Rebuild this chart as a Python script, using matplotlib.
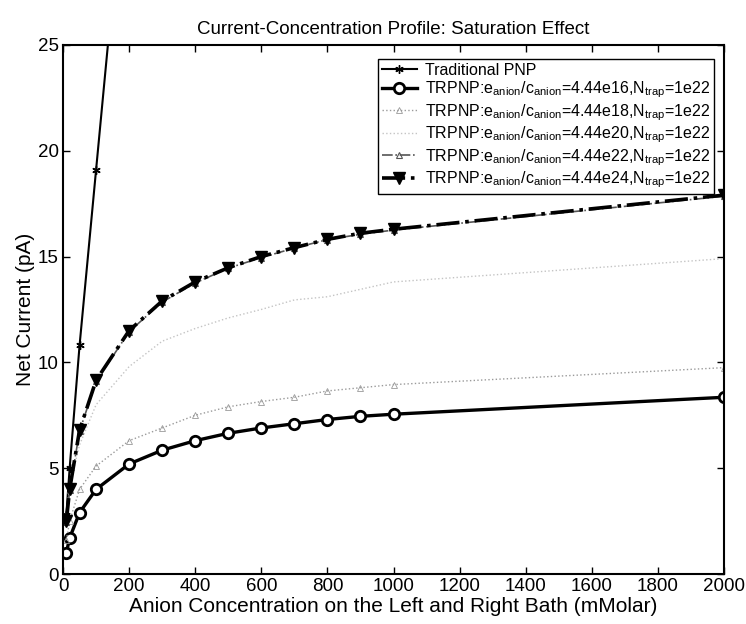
import numpy as np
import matplotlib as mpl
import matplotlib.pyplot as plt

# Current-concentration profile (scanned MATLAB figure, black & white)
mpl.rcParams.update({
    "font.family": ["Liberation Sans", "DejaVu Sans"],
    "mathtext.fontset": "custom",
    "mathtext.rm": "Liberation Sans",
    "mathtext.it": "Liberation Sans",
    "xtick.direction": "in",
    "ytick.direction": "in",
    "xtick.top": True,
    "ytick.right": True,
})

conc = [10, 20, 50, 100, 200, 300, 400, 500, 600, 700, 800, 900, 1000, 2000]

pnp_conc = [10, 20, 50, 100, 200]
pnp_current = [2.8, 5.0, 10.8, 19.1, 35.6]

trpnp_e16 = [1.0, 1.7, 2.9, 4.0, 5.2, 5.85, 6.3, 6.65, 6.9, 7.1, 7.3, 7.45, 7.55, 8.35]
trpnp_e18 = [1.6, 2.5, 4.0, 5.1, 6.3, 6.9, 7.5, 7.9, 8.15, 8.35, 8.65, 8.8, 8.95, 9.75]
trpnp_e20 = [2.7, 4.2, 6.1, 8.0, 9.8, 11.0, 11.6, 12.1, 12.5, 12.95, 13.1, 13.45, 13.8, 14.9]
trpnp_e22 = [2.45, 3.95, 6.75, 9.1, 11.45, 12.85, 13.75, 14.45, 14.95, 15.4, 15.8, 16.05, 16.25, 17.85]
trpnp_e24 = [2.5, 4.0, 6.8, 9.15, 11.5, 12.9, 13.8, 14.47, 15.0, 15.42, 15.81, 16.1, 16.29, 17.9]

labels = [
    "Traditional PNP",
    r"TRPNP:e$_{\mathrm{anion}}$/c$_{\mathrm{anion}}$=4.44e16,N$_{\mathrm{trap}}$=1e22",
    r"TRPNP:e$_{\mathrm{anion}}$/c$_{\mathrm{anion}}$=4.44e18,N$_{\mathrm{trap}}$=1e22",
    r"TRPNP:e$_{\mathrm{anion}}$/c$_{\mathrm{anion}}$=4.44e20,N$_{\mathrm{trap}}$=1e22",
    r"TRPNP:e$_{\mathrm{anion}}$/c$_{\mathrm{anion}}$=4.44e22,N$_{\mathrm{trap}}$=1e22",
    r"TRPNP:e$_{\mathrm{anion}}$/c$_{\mathrm{anion}}$=4.44e24,N$_{\mathrm{trap}}$=1e22",
]

fig = plt.figure(figsize=(7.46, 6.24), dpi=100)
ax = fig.add_axes([0.0845, 0.0801, 0.886, 0.848])

ax.plot(pnp_conc, pnp_current, color="black", linewidth=1.5,
        marker=(6, 2, 0), markersize=6, markeredgewidth=1.0, label=labels[0])
ax.plot(conc, trpnp_e16, color="black", linewidth=2.4, marker="o", markersize=7.5,
        markerfacecolor="white", markeredgewidth=2.0, label=labels[1])
ax.plot(conc, trpnp_e18, color="#9a9a9a", linewidth=1.0, linestyle=":",
        marker="^", markersize=4, markerfacecolor="none", markeredgewidth=0.6,
        label=labels[2])
ax.plot(conc, trpnp_e20, color="#c4c4c4", linewidth=1.0, linestyle=":",
        label=labels[3])
ax.plot(conc, trpnp_e22, color="#555555", linewidth=1.2, linestyle="-.",
        marker="^", markersize=5, markerfacecolor="none", markeredgewidth=0.8,
        label=labels[4])
ax.plot(conc, trpnp_e24, color="black", linewidth=2.6, linestyle="-.",
        marker="v", markersize=9, markerfacecolor="black", label=labels[5])

ax.set_xlim(0, 2000)
ax.set_ylim(0, 25)
ax.set_xticks(np.arange(0, 2001, 200))
ax.set_yticks([0, 5, 10, 15, 20, 25])
ax.tick_params(labelsize=13.5, length=5, width=1.0, pad=3)
for spine in ax.spines.values():
    spine.set_linewidth(1.5)

ax.set_title("Current-Concentration Profile: Saturation Effect", fontsize=13.5, pad=8)
ax.set_xlabel("Anion Concentration on the Left and Right Bath (mMolar)", fontsize=15, labelpad=1)
ax.set_ylabel("Net Current (pA)", fontsize=15, labelpad=2)

leg = ax.legend(loc="upper right", bbox_to_anchor=(0.997, 0.989), fontsize=11.5,
                numpoints=1, handlelength=2.2, handletextpad=0.5, labelspacing=0.12,
                borderpad=0.25, fancybox=False, framealpha=1, edgecolor="black")
leg.get_frame().set_linewidth(1.0)

fig.savefig("out.png", dpi=100)
